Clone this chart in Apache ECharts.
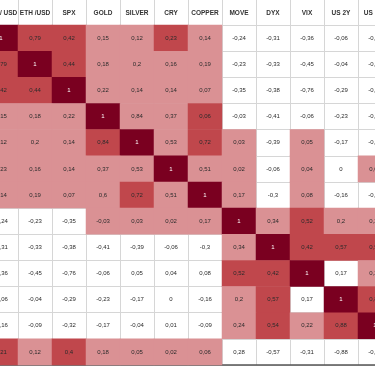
<!DOCTYPE html>
<html>
<head>
<meta charset="utf-8">
<style>html,body{margin:0;padding:0;background:#fff;}#c{width:375px;height:366px;}</style>
<script src="https://cdn.jsdelivr.net/npm/echarts@6/dist/echarts.min.js"></script>
</head>
<body>
<div id="c"></div>
<script>
const colLabels = ['BTC / USD','ETH /USD','SPX','GOLD','SILVER','CRY','COPPER','MOVE','DYX','VIX','US 2Y','US 10Y'];
const rowLabels = ['BTC / USD','ETH /USD','SPX','GOLD','SILVER','CRY','COPPER','MOVE','DYX','VIX','US 2Y','US 10Y','EUR / USD'];
const values = [
  [1, 0.79, 0.42, 0.15, 0.12, 0.23, 0.14, -0.24, -0.31, -0.36, -0.06, -0.16],
  [0.79, 1, 0.44, 0.18, 0.2, 0.16, 0.19, -0.23, -0.33, -0.45, -0.04, -0.09],
  [0.42, 0.44, 1, 0.22, 0.14, 0.14, 0.07, -0.35, -0.38, -0.76, -0.29, -0.32],
  [0.15, 0.18, 0.22, 1, 0.84, 0.37, 0.06, -0.03, -0.41, -0.06, -0.23, -0.17],
  [0.12, 0.2, 0.14, 0.84, 1, 0.53, 0.72, 0.03, -0.39, 0.05, -0.17, -0.04],
  [0.23, 0.16, 0.14, 0.37, 0.53, 1, 0.51, 0.02, -0.06, 0.04, 0, 0.01],
  [0.14, 0.19, 0.07, 0.6, 0.72, 0.51, 1, 0.17, -0.3, 0.08, -0.16, -0.09],
  [-0.24, -0.23, -0.35, -0.03, 0.03, 0.02, 0.17, 1, 0.34, 0.52, 0.2, 0.24],
  [-0.31, -0.33, -0.38, -0.41, -0.39, -0.06, -0.3, 0.34, 1, 0.42, 0.57, 0.54],
  [-0.36, -0.45, -0.76, -0.06, 0.05, 0.04, 0.08, 0.52, 0.42, 1, 0.17, 0.22],
  [-0.06, -0.04, -0.29, -0.23, -0.17, 0, -0.16, 0.2, 0.57, 0.17, 1, 0.88],
  [-0.16, -0.09, -0.32, -0.17, -0.04, 0.01, -0.09, 0.24, 0.54, 0.22, 0.88, 1],
  [0.21, 0.12, 0.4, 0.18, 0.05, 0.02, 0.06, 0.28, -0.57, -0.31, -0.88, -0.91]
];
// highlight level of each cell: 0 none, 1 light, 2 medium, 3 strong
const levels = [
  [3,2,2,1,1,2,1,0,0,0,0,0],
  [2,3,2,1,1,1,1,0,0,0,0,0],
  [2,2,3,1,1,1,1,0,0,0,0,0],
  [1,1,1,3,1,1,2,0,0,0,0,0],
  [1,1,1,2,3,1,2,1,0,1,0,0],
  [1,1,1,1,1,3,1,1,0,1,0,1],
  [1,1,1,1,2,1,3,1,0,1,0,0],
  [0,0,0,1,1,1,1,3,1,2,1,1],
  [0,0,0,0,0,0,0,1,3,2,2,2],
  [0,0,0,0,0,0,0,2,2,3,0,1],
  [0,0,0,0,0,0,0,1,2,0,3,2],
  [0,0,0,0,0,0,0,1,2,1,2,3],
  [2,1,2,1,1,1,1,0,0,0,0,0]
];

const data = [];
values.forEach((row, r) => row.forEach((v, c) => {
  const item = { value: [c, r, v, levels[r][c]] };
  if (levels[r][c] === 3) item.label = { color: '#ffffff' };
  data.push(item);
}));

const FONT = '"Liberation Sans Narrow", "Liberation Sans", Arial, sans-serif';
const GRID = '#d6d6d6';
const chart = echarts.init(document.getElementById('c'), null, { renderer: 'canvas' });
chart.setOption({
  animation: false,
  backgroundColor: '#ffffff',
  grid: { left: -16, top: 25, width: 408, height: 340, containLabel: false, outerBoundsMode: 'none' },
  xAxis: [{
    type: 'category', data: colLabels, position: 'top',
    axisLine: { show: true, lineStyle: { color: GRID, width: 1 } },
    axisTick: { show: true, length: 25, interval: 0, lineStyle: { color: GRID, width: 1 } },
    axisLabel: { interval: 0, margin: 12, verticalAlign: 'middle', color: '#333', fontSize: 6.5, fontWeight: 'bold', fontFamily: FONT, hideOverlap: false },
    splitLine: { show: true, interval: 0, lineStyle: { color: GRID, width: 1 } }
  }, {
    type: 'category', data: colLabels, position: 'bottom',
    axisLine: { show: true, lineStyle: { color: '#555', width: 1.5 } },
    axisTick: { show: false }, axisLabel: { show: false }, splitLine: { show: false }
  }],
  yAxis: {
    type: 'category', data: rowLabels, inverse: true,
    axisLine: { show: false }, axisTick: { show: false }, axisLabel: { show: false },
    splitLine: { show: true, interval: 0, lineStyle: { color: GRID, width: 1 } }
  },
  visualMap: {
    type: 'piecewise', show: false, dimension: 3, seriesIndex: 0,
    pieces: [
      { value: 0, color: 'rgba(255,255,255,0)' },
      { value: 1, color: '#da9194' },
      { value: 2, color: '#c0474c' },
      { value: 3, color: '#7a0020' }
    ]
  },
  series: [{
    type: 'heatmap', data: data,
    itemStyle: { borderWidth: 0 },
    emphasis: { disabled: true },
    label: {
      show: true, fontSize: 6, color: '#2b2b2b', fontFamily: FONT,
      formatter: p => String(p.value[2]).replace('.', ',')
    }
  }]
});
</script>
</body>
</html>
